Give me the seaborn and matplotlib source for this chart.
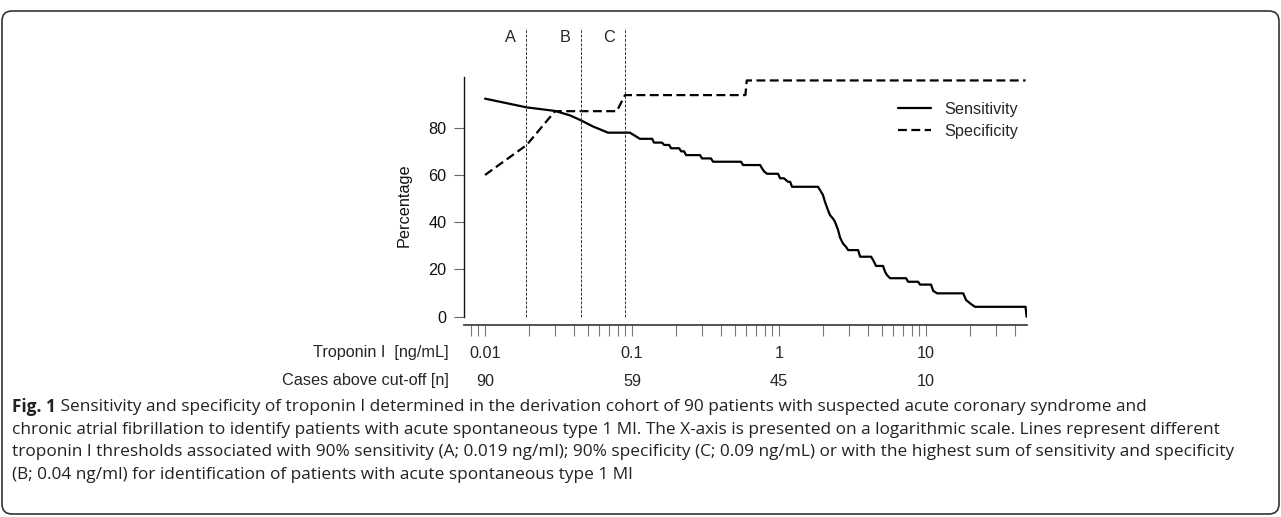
import numpy as np
import pandas as pd
import matplotlib
matplotlib.use("Agg")
import matplotlib.pyplot as plt
import seaborn as sns
from matplotlib.patches import FancyBboxPatch
from matplotlib.transforms import IdentityTransform, blended_transform_factory
from matplotlib.ticker import LogLocator, NullFormatter, FixedLocator

# ---------------- data ----------------
sens_x = [0.0100, 0.0192, 0.0299, 0.0379, 0.0443, 0.0543, 0.0687, 0.0968, 0.113, 0.137,
          0.141, 0.160, 0.165, 0.179, 0.184, 0.209, 0.216, 0.226, 0.233, 0.290,
          0.299, 0.344, 0.356, 0.551, 0.569, 0.743, 0.766, 0.791, 0.829, 0.984,
          1.016, 1.08, 1.15, 1.19, 1.225, 1.84, 1.90, 1.99, 2.05, 2.15,
          2.22, 2.33, 2.40, 2.52, 2.60, 2.72, 2.86, 2.95, 3.45, 3.56,
          4.23, 4.36, 4.57, 5.10, 5.26, 5.43, 5.69, 7.31, 7.55, 8.83,
          9.10, 10.8, 11.2, 11.9, 17.9, 18.7, 19.9, 21.5, 47.5, 48.3]
sens_y = [92.3, 88.6, 87.1, 85.2, 83.3, 80.5, 77.9, 77.9, 75.3, 75.3,
          73.7, 73.7, 72.7, 72.7, 71.3, 71.3, 70.0, 70.0, 68.4, 68.4,
          67.0, 67.0, 65.6, 65.6, 64.2, 64.2, 62.8, 61.5, 60.5, 60.5,
          58.6, 58.6, 57.1, 57.1, 55.0, 55.0, 53.6, 51.5, 48.7, 45.2,
          43.0, 41.5, 40.2, 36.7, 33.5, 31.0, 29.5, 28.2, 28.2, 25.4,
          25.4, 24.0, 21.5, 21.5, 19.0, 17.6, 16.3, 16.3, 14.8, 14.8,
          13.6, 13.6, 10.9, 9.9, 9.9, 7.1, 5.7, 4.2, 4.2, 0.0]

spec_x = [0.0100, 0.0192, 0.0299, 0.0787, 0.0895, 0.590, 0.603, 47.5]
spec_y = [60.0, 72.7, 87.0, 87.0, 93.8, 93.8, 100.0, 100.0]

cutoff_x = [0.019, 0.045, 0.09]
cutoff_labels = ["A", "B", "C"]

tick_values = [0.01, 0.1, 1, 10]
tick_labels = ["0.01", "0.1", "1", "10"]
cases_labels = ["90", "59", "45", "10"]
y_ticks = [0, 20, 40, 60, 80]

row_titles = ["Troponin I  [ng/mL]", "Cases above cut-off [n]"]
series_names = ["Sensitivity", "Specificity"]

caption_bold = "Fig. 1"
caption_lines = [
    " Sensitivity and specificity of troponin I determined in the derivation cohort of 90 patients with suspected acute coronary syndrome and",
    "chronic atrial fibrillation to identify patients with acute spontaneous type 1 MI. The X-axis is presented on a logarithmic scale. Lines represent different",
    "troponin I thresholds associated with 90% sensitivity (A; 0.019 ng/ml); 90% specificity (C; 0.09 ng/mL) or with the highest sum of sensitivity and specificity",
    "(B; 0.04 ng/ml) for identification of patients with acute spontaneous type 1 MI",
]

# ---------------- style ----------------
sns.set_style("ticks")
plt.rcParams["font.family"] = ["Liberation Sans", "DejaVu Sans"]
FS = 11.7

W, H = 1281, 517
fig = plt.figure(figsize=(W / 100, H / 100), dpi=100)
ax = fig.add_axes([464 / W, 1 - 325 / H, 563 / W, 297 / H])

df_sens = pd.DataFrame({"x": sens_x, "y": sens_y})
df_spec = pd.DataFrame({"x": spec_x, "y": spec_y})

sns.lineplot(data=df_sens, x="x", y="y", ax=ax, sort=False, estimator=None,
             color="black", linewidth=1.6, legend=False)
sns.lineplot(data=df_spec, x="x", y="y", ax=ax, sort=False, estimator=None,
             color="black", linewidth=1.6, linestyle=(0, (4, 2)), legend=False)

ax.set_xscale("log")
YMIN, YMAX = -3.5, 122.2
ax.set_xlim(0.00719, 48.6)
ax.set_ylim(YMIN, YMAX)

# cut-off lines
for xv, lab in zip(cutoff_x, cutoff_labels):
    ax.axvline(xv, ymin=(0 - YMIN) / (YMAX - YMIN), ymax=1, color="#333333",
               linewidth=0.7, linestyle=(0, (3, 1.5)))
    ax.annotate(lab, xy=(xv, 1), xycoords=("data", "axes fraction"),
                xytext=(-11.5, -7.2), textcoords="offset points",
                ha="center", va="center", fontsize=FS)

# axes cosmetics
for s in ["top", "right"]:
    ax.spines[s].set_visible(False)
ax.spines["left"].set_bounds(0, 101.6)
ax.spines["left"].set_color("#111111")
ax.spines["left"].set_linewidth(1.0)
ax.spines["bottom"].set_color("#333333")
ax.spines["bottom"].set_linewidth(1.2)

ax.set_yticks(y_ticks)
ax.set_yticklabels([str(v) for v in y_ticks])
ax.tick_params(axis="y", length=7.5, width=0.8, color="#666666", labelsize=FS,
               pad=5, labelcolor="#111111")

ax.xaxis.set_major_locator(FixedLocator(tick_values))
ax.xaxis.set_minor_locator(LogLocator(base=10, subs=np.arange(2, 10), numticks=30))
ax.xaxis.set_minor_formatter(NullFormatter())
ax.tick_params(axis="x", which="both", length=8, width=0.8, color="#777777",
               labelbottom=False)

ax.set_xlabel("")
ax.set_ylabel("Percentage", fontsize=FS, color="#111111")
ax.yaxis.set_label_coords((412 - 464) / 563, 0.404)

# two rows of x labels
trans = blended_transform_factory(ax.transData, ax.transAxes)
row_y = [-(353 - 325) / 297, -(381 - 325) / 297]
for xv, t1, t2 in zip(tick_values, tick_labels, cases_labels):
    ax.text(xv, row_y[0], t1, transform=trans, ha="center", va="center", fontsize=FS)
    ax.text(xv, row_y[1], t2, transform=trans, ha="center", va="center", fontsize=FS)
for yy, title in zip(row_y, row_titles):
    ax.text((449 - 464) / 563, yy, title, transform=ax.transAxes, ha="right",
            va="center", fontsize=FS)

# legend
handles = ax.get_lines()[:2]
leg = ax.legend(handles, series_names, loc="upper left",
                bbox_to_anchor=((898 - 464) / 563, (325 - 102) / 297),
                frameon=False, fontsize=FS, handlelength=2.0, handletextpad=0.85,
                labelspacing=0.42, borderpad=0, borderaxespad=0)

# caption
cap_font = ["Open Sans", "DejaVu Sans"]
CFS = 12.4
cap_y = [407, 430, 452, 475]
renderer = fig.canvas.get_renderer()
tb = fig.text(12 / W, 1 - cap_y[0] / H, caption_bold, fontsize=CFS, fontweight="bold",
              family=cap_font, va="center", ha="left", color="#222222")
bb = tb.get_window_extent(renderer=renderer)
fig.text(bb.x1 / W, 1 - cap_y[0] / H, caption_lines[0], fontsize=CFS, family=cap_font,
         va="center", ha="left", color="#222222")
for yy, line in zip(cap_y[1:], caption_lines[1:]):
    fig.text(12 / W, 1 - yy / H, line, fontsize=CFS, family=cap_font,
             va="center", ha="left", color="#222222")

# rounded frame
frame = FancyBboxPatch((2, 3), 1277, 503, boxstyle="round,pad=0,rounding_size=10",
                       transform=IdentityTransform(), fill=False,
                       edgecolor="#333333", linewidth=1.2)
fig.add_artist(frame)

fig.savefig("out.png", dpi=100)
